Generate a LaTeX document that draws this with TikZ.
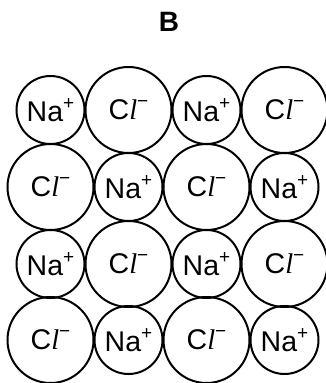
\documentclass[tikz,border=0pt]{standalone}
\usepackage{fontspec}
\setmainfont{Liberation Sans}
\newfontfamily\ellfont{Liberation Serif}
\usetikzlibrary{positioning}

\newcommand{\sodium}{Na\raisebox{0.42em}{\fontsize{19}{20}\selectfont+}}
\newcommand{\chloride}{C{\ellfont\itshape l}\raisebox{0.42em}{\fontsize{19}{20}\selectfont\char"2212}}

\begin{document}
\begin{tikzpicture}[
  x=1pt, y=1pt,
  every node/.style={font=\fontsize{28.5}{30}\selectfont},
  ion/.style={draw, circle, line width=2pt, inner sep=0pt},
  naion/.style={ion, minimum size=68pt},
  clion/.style={ion, minimum size=86pt},
  title/.style={font=\fontsize{28}{30}\selectfont\bfseries},
]
\useasboundingbox (0,0) rectangle (326,-383);

\node[title] (label) at (169,-22) {B};

% rows of the lattice, alternating Na+ and Cl-
\foreach \r/\y in {1/-110, 2/-187, 3/-264, 4/-340} {
  \foreach \c/\x in {1/50.5, 2/128.5, 3/206.5, 4/284.5} {
    \pgfmathtruncatemacro{\kind}{mod(\r+\c,2)}
    \ifnum\kind=0
      \node[naion] (ion\r\c) at (\x,\y) {\sodium};
    \else
      \node[clion] (ion\r\c) at (\x,\y) {\chloride};
    \fi
  }
}
\end{tikzpicture}
\end{document}
